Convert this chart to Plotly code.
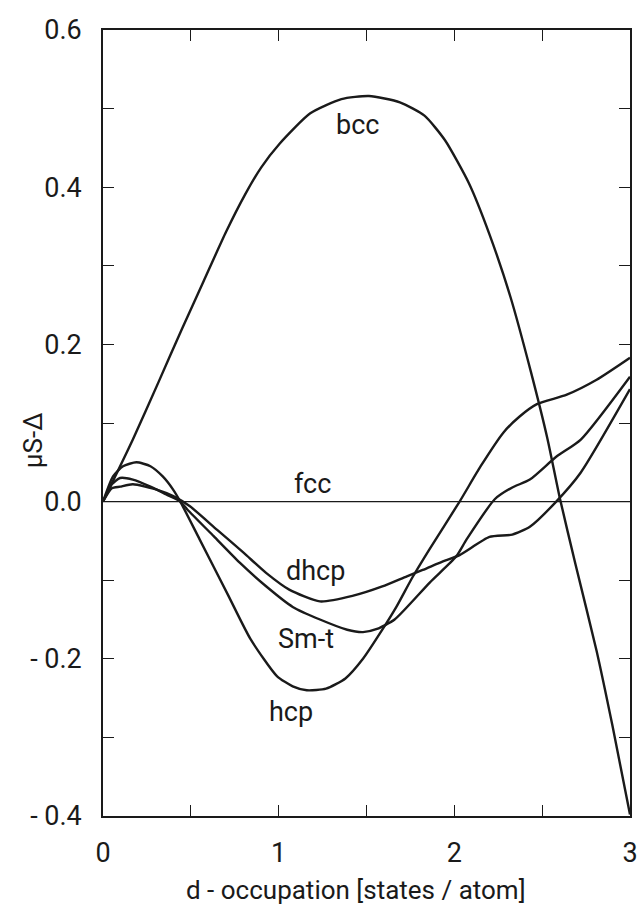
import plotly.graph_objects as go

# ---- data ----
bcc_x = [0, 0.17, 0.316, 0.45, 0.572, 0.7, 0.807, 0.9, 1.004, 1.18, 1.357, 1.514, 1.69, 1.83, 1.946, 2.083, 2.2, 2.32, 2.436, 2.53, 2.6, 2.69, 2.81, 2.9, 3.0]
bcc_y = [0, 0.079, 0.152, 0.22, 0.28, 0.343, 0.39, 0.425, 0.455, 0.494, 0.512, 0.516, 0.508, 0.491, 0.46, 0.405, 0.34, 0.26, 0.165, 0.08, 0.005, -0.08, -0.19, -0.285, -0.398]

fcc_x = [0, 3]
fcc_y = [0, 0]

hcp_x = [0, 0.057, 0.114, 0.19, 0.27, 0.34, 0.40, 0.44, 0.55, 0.71, 0.84, 0.99, 1.08, 1.16, 1.27, 1.38, 1.48, 1.59, 1.67, 1.765, 1.86, 2.03, 2.15, 2.28, 2.37, 2.47, 2.64, 2.81, 3.0]
hcp_y = [0, 0.032, 0.045, 0.05, 0.045, 0.032, 0.015, 0.0, -0.048, -0.118, -0.175, -0.222, -0.235, -0.24, -0.238, -0.225, -0.2, -0.163, -0.134, -0.095, -0.06, 0.0, 0.045, 0.088, 0.108, 0.124, 0.136, 0.155, 0.183]

smt_x = [0, 0.05, 0.097, 0.17, 0.27, 0.36, 0.44, 0.48, 0.63, 0.78, 0.93, 1.08, 1.235, 1.39, 1.48, 1.56, 1.66, 1.86, 2.01, 2.07, 2.23, 2.33, 2.43, 2.58, 2.72, 3.0]
smt_y = [0, 0.022, 0.030, 0.028, 0.019, 0.009, 0.0, -0.01, -0.044, -0.078, -0.108, -0.134, -0.150, -0.163, -0.166, -0.162, -0.150, -0.103, -0.070, -0.048, 0.003, 0.018, 0.028, 0.057, 0.079, 0.159]

dhcp_x = [0, 0.05, 0.097, 0.17, 0.31, 0.40, 0.495, 0.65, 0.80, 0.93, 1.06, 1.235, 1.42, 1.59, 1.73, 1.82, 1.935, 2.03, 2.20, 2.33, 2.43, 2.58, 2.72, 3.0]
dhcp_y = [0, 0.017, 0.019, 0.022, 0.015, 0.007, -0.006, -0.036, -0.065, -0.091, -0.112, -0.127, -0.120, -0.108, -0.095, -0.087, -0.076, -0.068, -0.045, -0.042, -0.032, 0.0, 0.037, 0.143]

labels = ["bcc", "fcc", "dhcp", "Sm-t", "hcp"]
label_x = [1.45, 1.19, 1.21, 1.155, 1.07]
label_y = [0.479, 0.023, -0.088, -0.175, -0.268]

x_tickvals = [0, 1, 2, 3]
x_ticktext = ["0", "1", "2", "3"]
y_tickvals = [0.6, 0.4, 0.2, 0.0, -0.2, -0.4]
y_ticktext = ["0.6", "0.4", "0.2", "0.0", "- 0.2", "- 0.4"]

x_title = "d - occupation [states / atom]"
y_title = "μS-Δ"

FONT = "Roboto"
INK = "#1a1a1a"

fig = go.Figure()
for xs, ys, w in [(fcc_x, fcc_y, 1.3), (bcc_x, bcc_y, 2.4), (hcp_x, hcp_y, 2.4),
                  (smt_x, smt_y, 2.4), (dhcp_x, dhcp_y, 2.4)]:
    fig.add_trace(go.Scatter(x=xs, y=ys, mode="lines",
                             line=dict(color=INK, width=w, shape="spline", smoothing=0.6),
                             showlegend=False, hoverinfo="skip", cliponaxis=True))

for t, lx, ly in zip(labels, label_x, label_y):
    fig.add_annotation(x=lx, y=ly, text=t, showarrow=False,
                       font=dict(family=FONT, size=27, color=INK))

fig.add_annotation(xref="paper", yref="paper", x=-0.133, y=0.478, text=y_title,
                   textangle=-90, showarrow=False, xanchor="center", yanchor="middle",
                   font=dict(family=FONT, size=26, color=INK))
fig.add_annotation(xref="paper", yref="paper", x=0.48, y=-0.094, text=x_title,
                   showarrow=False, xanchor="center", yanchor="middle",
                   font=dict(family=FONT, size=26, color=INK))

axis_common = dict(showline=True, linecolor=INK, linewidth=1.6, mirror="ticks",
                   ticks="inside", ticklen=11, tickwidth=1.4, tickcolor=INK,
                   showgrid=False, zeroline=False, automargin=False,
                   tickfont=dict(family=FONT, size=27, color=INK))

fig.update_xaxes(range=[0, 3], tickvals=x_tickvals, ticktext=x_ticktext,
                 minor=dict(dtick=0.5, ticks="inside", ticklen=11, tickwidth=1.4, tickcolor=INK),
                 ticklabelstandoff=12, **axis_common)
fig.update_yaxes(range=[-0.4, 0.6], tickvals=y_tickvals, ticktext=y_ticktext,
                 minor=dict(dtick=0.1, ticks="inside", ticklen=11, tickwidth=1.4, tickcolor=INK),
                 ticklabelstandoff=14, **axis_common)

fig.update_layout(width=639, height=906, margin=dict(l=103, r=9, t=30, b=90),
                  paper_bgcolor="white", plot_bgcolor="white", showlegend=False)

fig.write_html("out.html")
